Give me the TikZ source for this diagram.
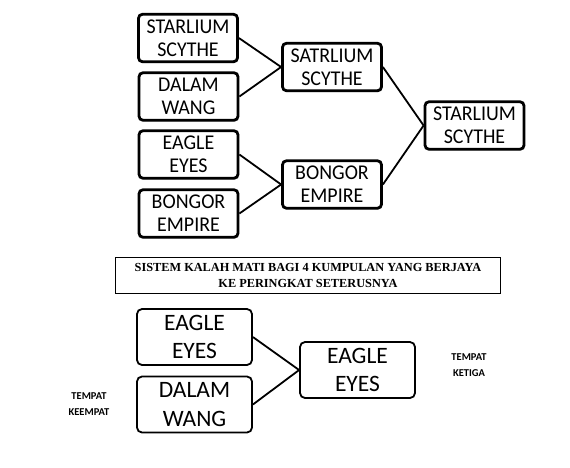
\documentclass[tikz,border=0pt]{standalone}
\usepackage{fontspec}
\setmainfont{Carlito}
\newfontfamily\teamfont[FakeStretch=0.95]{Carlito}
\newfontfamily\captionserif{Liberation Serif}
\usetikzlibrary{shadows}

\begin{document}
\begin{tikzpicture}[
        x=1pt, y=-1pt,
        team/.style={draw, line width=2.8pt, rounded corners=4pt, fill=white,
            minimum width=99pt, minimum height=47.5pt, inner sep=0pt, align=center,
            font=\teamfont\fontsize{21}{23.3}\selectfont,
            drop shadow={shadow xshift=0.8pt, shadow yshift=-1.4pt, opacity=0.3}},
        bigteam/.style={draw, line width=1.8pt, rounded corners=5pt,
            minimum width=115pt, minimum height=56pt, inner sep=0pt, align=center,
            font=\fontsize{23.5}{28.3}\selectfont},
        link/.style={line width=1.8pt},
        place/.style={font=\bfseries\fontsize{10.5}{16}\selectfont, align=center}
    ]
        \useasboundingbox (0,0) rectangle (570,467);

        % first round
        \node[team] (starlium) at (188,38) {STARLIUM\\SCYTHE};
        \node[team] (dalam) at (188.5,96.5) {DALAM\\WANG};
        \node[team] (eagle) at (188.5,154.5) {EAGLE\\EYES};
        \node[team] (bongor) at (188.5,213.5) {BONGOR\\EMPIRE};
        % second round
        \node[team] (semiA) at (332,67) {SATRLIUM\\SCYTHE};
        \node[team] (semiB) at (332,184.5) {BONGOR\\EMPIRE};
        % final
        \node[team] (champion) at (474.5,125.5) {STARLIUM\\SCYTHE};

        \draw[link] (starlium.east) -- (semiA.west);
        \draw[link] (dalam.east) -- (semiA.west);
        \draw[link] (eagle.east) -- (semiB.west);
        \draw[link] (bongor.east) -- (semiB.west);
        \draw[link] (semiA.east) -- (champion.west);
        \draw[link] (semiB.east) -- (champion.west);

        \node[draw, line width=0.9pt, minimum width=385pt, minimum height=36pt,
            inner sep=0pt, align=center,
            font=\captionserif\bfseries\fontsize{12.3}{16}\selectfont] (caption) at (308,275.5)
            {SISTEM KALAH MATI BAGI 4 KUMPULAN YANG BERJAYA\\KE PERINGKAT SETERUSNYA};

        % third place
        \node[bigteam] (thirdA) at (194.5,337) {EAGLE\\EYES};
        \node[bigteam] (thirdB) at (194.5,404.5) {DALAM\\WANG};
        \node[bigteam] (third) at (357.5,370) {EAGLE\\EYES};
        \draw[link] (thirdA.east) -- (third.west);
        \draw[link] (thirdB.east) -- (third.west);

        \node[place] (ketiga) at (469,365) {TEMPAT\\KETIGA};
        \node[place] (keempat) at (89,404.5) {TEMPAT\\KEEMPAT};
    \end{tikzpicture}
\end{document}
